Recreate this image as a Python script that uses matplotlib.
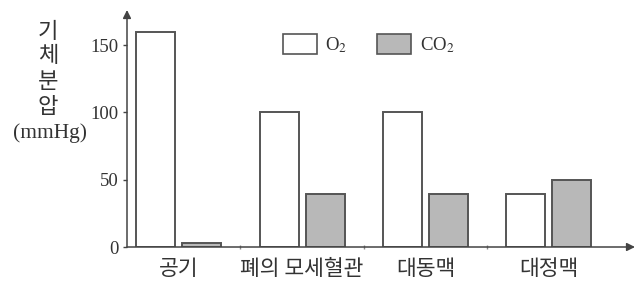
import numpy as np
import matplotlib.pyplot as plt
from matplotlib.patches import Patch

plt.rcParams['font.family'] = ['Liberation Serif', 'DejaVu Serif']
plt.rcParams['mathtext.fontset'] = 'stix'

# data (mmHg)
sites = ['공기', '폐의 모세혈관', '대동맥', '대정맥']
o2 = [160, 100, 100, 39]
co2 = [3, 39, 39, 50]
yticks = [0, 50, 100, 150]

kfont = ['Noto Sans CJK KR', 'DejaVu Sans']
txt = '#333333'
edge = '#555555'
grey = '#b8b8b8'

fig = plt.figure(figsize=(6.37, 2.87), dpi=100)
ax = fig.add_axes([127 / 637, 40 / 287, 508 / 637, 237 / 287])

x = np.arange(len(sites))
w = 0.316
off = 0.187
ax.bar(x - off, o2, w, color='white', edgecolor=edge, lw=1.4)
ax.bar(x + off, co2, w, color=grey, edgecolor=edge, lw=1.4)

ax.set_xlim(-0.42, 3.70)
ax.set_ylim(0, 176)

# axes drawn as arrows
for s in ax.spines.values():
    s.set_visible(False)
ax.annotate('', xy=(0, 1), xytext=(0, 0), xycoords='axes fraction',
            arrowprops=dict(arrowstyle='-|>', color='#444444', lw=1.1,
                            mutation_scale=12, shrinkA=0, shrinkB=0))
ax.annotate('', xy=(1, 0), xytext=(0, 0), xycoords='axes fraction',
            arrowprops=dict(arrowstyle='-|>', color='#444444', lw=1.1,
                            mutation_scale=12, shrinkA=0, shrinkB=0))

ax.set_yticks(yticks)
ax.set_yticklabels([str(v) for v in yticks], fontsize=13.5, color=txt)
ax.tick_params(axis='y', length=3, width=1, color='#444444', pad=3)

ax.set_xticks(x)
ax.set_xticklabels(sites, family=kfont, fontsize=15.5, weight='medium', color=txt)
ax.tick_params(axis='x', length=0, pad=8)
ax.set_xticks(x[:-1] + 0.5, minor=True)
ax.tick_params(axis='x', which='minor', length=3, width=1, color='#888888',
               direction='inout')

# vertical axis title
for i, ch in enumerate('기체분압'):
    fig.text(48 / 637, 1 - (31 + i * 25) / 287, ch, family=kfont, fontsize=16,
             weight='medium', color=txt, ha='center', va='center')
fig.text(50 / 637, 1 - 133 / 287, '(mmHg)', fontsize=15.5, color=txt,
         ha='center', va='center')

handles = [Patch(facecolor='white', edgecolor=edge, lw=1.2),
           Patch(facecolor=grey, edgecolor=edge, lw=1.2)]
ax.legend(handles, ['O$_2$', 'CO$_2$'], loc='center left',
          bbox_to_anchor=(0.307, 0.854), ncol=2, frameon=False,
          borderpad=0, borderaxespad=0, handlelength=1.8, handleheight=1.2,
          handletextpad=0.45, columnspacing=1.6, labelcolor=txt,
          prop={'family': 'Liberation Serif', 'size': 13.5})

plt.savefig('out.png', dpi=100)
